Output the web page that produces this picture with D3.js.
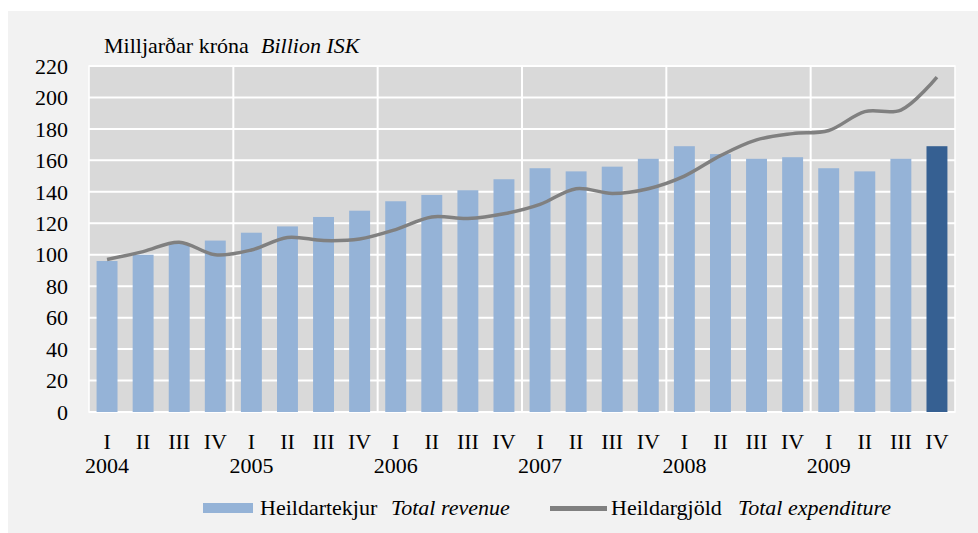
<!DOCTYPE html>
<html>
<head>
<meta charset="utf-8">
<script src="https://cdn.jsdelivr.net/npm/d3@7"></script>
<style>
  body { margin: 0; background: #ffffff; }
</style>
</head>
<body>
<svg width="978" height="533"></svg>
<script>
const years = ['2004', '2005', '2006', '2007', '2008', '2009']
const quarters = ['I', 'II', 'III', 'IV']
const revenue = [96, 100, 107, 109, 114, 118, 124, 128, 134, 138, 141, 148,
  155, 153, 156, 161, 169, 164, 161, 162, 155, 153, 161, 169]
const expenditure = [97, 102, 108, 100, 103, 111, 109, 110, 116, 124, 123, 126,
  132, 142, 139, 142, 150, 163, 173, 177, 179, 191, 192, 213]
const yTicks = [0, 20, 40, 60, 80, 100, 120, 140, 160, 180, 200, 220]

const fontSize = 22
const svg = d3.select('svg')
  .attr('font-family', "'Liberation Serif', 'Times New Roman', serif")
const plotLeft = 89, plotRight = 955, plotTop = 66, plotBottom = 412

const periods = []
years.forEach(y => quarters.forEach(q => periods.push(y + ' ' + q)))

const x = d3.scaleBand()
  .domain(periods)
  .range([plotLeft, plotRight])
  .paddingInner(0.42)
  .paddingOuter(0.21)

const y = d3.scaleLinear()
  .domain([0, 220])
  .range([plotBottom, plotTop])

// outer background
svg.append('rect')
  .attr('x', 8)
  .attr('y', 11)
  .attr('width', 970)
  .attr('height', 522)
  .attr('fill', '#f2f2f2')

// plot area
svg.append('rect')
  .attr('x', plotLeft)
  .attr('y', plotTop)
  .attr('width', plotRight - plotLeft)
  .attr('height', plotBottom - plotTop)
  .attr('fill', '#d9d9d9')
  .attr('stroke', '#ffffff')
  .attr('stroke-width', 1.5)

svg.append('g').selectAll('line')
  .data(yTicks)
  .enter()
  .append('line')
  .attr('x1', plotLeft)
  .attr('x2', plotRight)
  .attr('y1', d => y(d))
  .attr('y2', d => y(d))
  .attr('stroke', '#ffffff')
  .attr('stroke-width', 2)

// year separators
const yearStep = (plotRight - plotLeft) / years.length
svg.append('g').selectAll('line')
  .data(years.slice(1))
  .enter()
  .append('line')
  .attr('x1', (d, i) => plotLeft + (i + 1) * yearStep)
  .attr('x2', (d, i) => plotLeft + (i + 1) * yearStep)
  .attr('y1', plotTop)
  .attr('y2', plotBottom)
  .attr('stroke', '#ffffff')
  .attr('stroke-width', 2)

svg.append('g').selectAll('rect')
  .data(revenue)
  .enter()
  .append('rect')
  .attr('x', (d, i) => x(periods[i]))
  .attr('y', d => y(d))
  .attr('width', x.bandwidth())
  .attr('height', d => y(0) - y(d))
  .attr('fill', (d, i) => i == revenue.length - 1 ? '#366092' : '#95b3d7')

const line = d3.line()
  .x((d, i) => x(periods[i]) + x.bandwidth() / 2)
  .y(d => y(d))
  .curve(d3.curveCatmullRom.alpha(0.5))

svg.append('path')
  .datum(expenditure)
  .attr('d', line)
  .attr('fill', 'none')
  .attr('stroke', '#808080')
  .attr('stroke-width', 3.5)

// y axis labels
svg.append('g').selectAll('text')
  .data(yTicks)
  .enter()
  .append('text')
  .attr('x', 68)
  .attr('y', d => y(d))
  .attr('dy', '0.35em')
  .attr('text-anchor', 'end')
  .attr('font-size', fontSize)
  .text(d => d)

// x axis labels
svg.append('g').selectAll('text')
  .data(periods)
  .enter()
  .append('text')
  .attr('x', d => x(d) + x.bandwidth() / 2)
  .attr('y', 448.5)
  .attr('text-anchor', 'middle')
  .attr('font-size', fontSize)
  .text((d, i) => quarters[i % 4])

svg.append('g').selectAll('text')
  .data(years)
  .enter()
  .append('text')
  .attr('x', d => x(d + ' I') + x.bandwidth() / 2)
  .attr('y', 472.5)
  .attr('text-anchor', 'middle')
  .attr('font-size', fontSize)
  .text(d => d)

// unit title
const title = svg.append('text')
  .attr('x', 104)
  .attr('y', 53)
  .attr('font-size', fontSize)
title.append('tspan').text('Milljarðar króna')
title.append('tspan').attr('x', 261).attr('font-style', 'italic').text('Billion ISK')

// legend
svg.append('rect')
  .attr('x', 203)
  .attr('y', 503)
  .attr('width', 50)
  .attr('height', 10)
  .attr('fill', '#95b3d7')

const leg1 = svg.append('text')
  .attr('x', 260)
  .attr('y', 515)
  .attr('font-size', fontSize)
leg1.append('tspan').text('Heildartekjur')
leg1.append('tspan').attr('x', 391).attr('font-style', 'italic').text('Total revenue')

svg.append('line')
  .attr('x1', 550)
  .attr('x2', 607)
  .attr('y1', 508.5)
  .attr('y2', 508.5)
  .attr('stroke', '#808080')
  .attr('stroke-width', 5)

const leg2 = svg.append('text')
  .attr('x', 611)
  .attr('y', 515)
  .attr('font-size', fontSize)
leg2.append('tspan').text('Heildargjöld')
leg2.append('tspan').attr('x', 738).attr('font-style', 'italic').text('Total expenditure')
</script>
</body>
</html>
